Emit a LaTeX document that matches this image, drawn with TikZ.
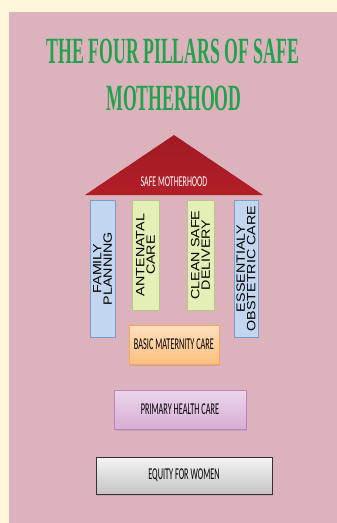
\documentclass[tikz,border=0pt]{standalone}
\usepackage{fontspec}
\usetikzlibrary{shadows}
\newfontfamily\titlefont[FakeStretch=0.48]{Liberation Serif}
\newfontfamily\boxfont[FakeStretch=0.5]{Carlito}
\newfontfamily\roofont[FakeStretch=0.53]{Carlito}
\newfontfamily\pillarfont[FakeStretch=1.19]{Liberation Sans}
\definecolor{cream}{HTML}{FDF6D9}
\definecolor{panel}{HTML}{DCB3BC}
\definecolor{titlegreen}{HTML}{23A24D}
\definecolor{roofred}{HTML}{B21E28}
\definecolor{pillarblue}{HTML}{C3D6EF}
\definecolor{pillarblueline}{HTML}{7B9CCB}
\definecolor{pillargreen}{HTML}{E3EFB6}
\definecolor{pillargreenline}{HTML}{B5C97F}

\begin{document}
\begin{tikzpicture}[x=1pt,y=-1pt,
		pillar/.style={draw,line width=.8pt,rotate=90,align=center,inner sep=0pt,text=black,font=\pillarfont\fontsize{12}{10.5}\selectfont},
		tier/.style={draw,line width=.8pt,inner sep=0pt,text=black,font=\boxfont\fontsize{16.5}{18}\selectfont,drop shadow={opacity=.25,shadow xshift=1pt,shadow yshift=-1.5pt}}]
		\fill[cream] (0,0) rectangle (337,523);
		\fill[panel] (9,12) rectangle (337,523);
		\node[anchor=base,text=titlegreen,font=\titlefont\bfseries\fontsize{37}{40}\selectfont] (title1) at (173,63) {THE FOUR PILLARS OF SAFE};
		\node[anchor=base,text=titlegreen,font=\titlefont\bfseries\fontsize{37}{40}\selectfont] (title2) at (174,110) {MOTHERHOOD};
		\shade[top color=roofred!90!black,bottom color=roofred] (85,195) -- (174,135) -- (263,195) -- cycle;
		\node[anchor=base,text=white,font=\roofont\fontsize{15}{17}\selectfont] (roof) at (174,186) {SAFE MOTHERHOOD};
		\node[pillar,fill=pillarblue,draw=pillarblueline,minimum width=137pt,minimum height=25pt] (fp) at (102.5,268.5) {FAMILY\\PLANNING};
		\node[pillar,fill=pillargreen,draw=pillargreenline,minimum width=110pt,minimum height=27pt] (anc) at (145.5,255) {ANTENATAL\\CARE};
		\node[pillar,fill=pillargreen,draw=pillargreenline,minimum width=110pt,minimum height=27pt] (csd) at (200.5,255) {CLEAN SAFE\\DELIVERY};
		\node[pillar,fill=pillarblue,draw=pillarblueline,minimum width=137pt,minimum height=24pt] (eoc) at (246,268.5) {ESSENTIALY\\OBSTETRIC CARE};
		\node[tier,top color=orange!25!white,bottom color=orange!50!white,draw=orange!70!white,minimum width=90pt,minimum height=39pt] (bmc) at (174,344.5) {BASIC MATERNITY CARE};
		\node[tier,top color=violet!16!white,bottom color=violet!32!white,draw=violet!50!white,minimum width=132pt,minimum height=39pt] (phc) at (180,409.5) {PRIMARY HEALTH CARE};
		\node[tier,top color=black!4,bottom color=black!23,draw=black!80,minimum width=176pt,minimum height=37pt] (efw) at (184,475.5) {EQUITY FOR WOMEN};
	\end{tikzpicture}
\end{document}
